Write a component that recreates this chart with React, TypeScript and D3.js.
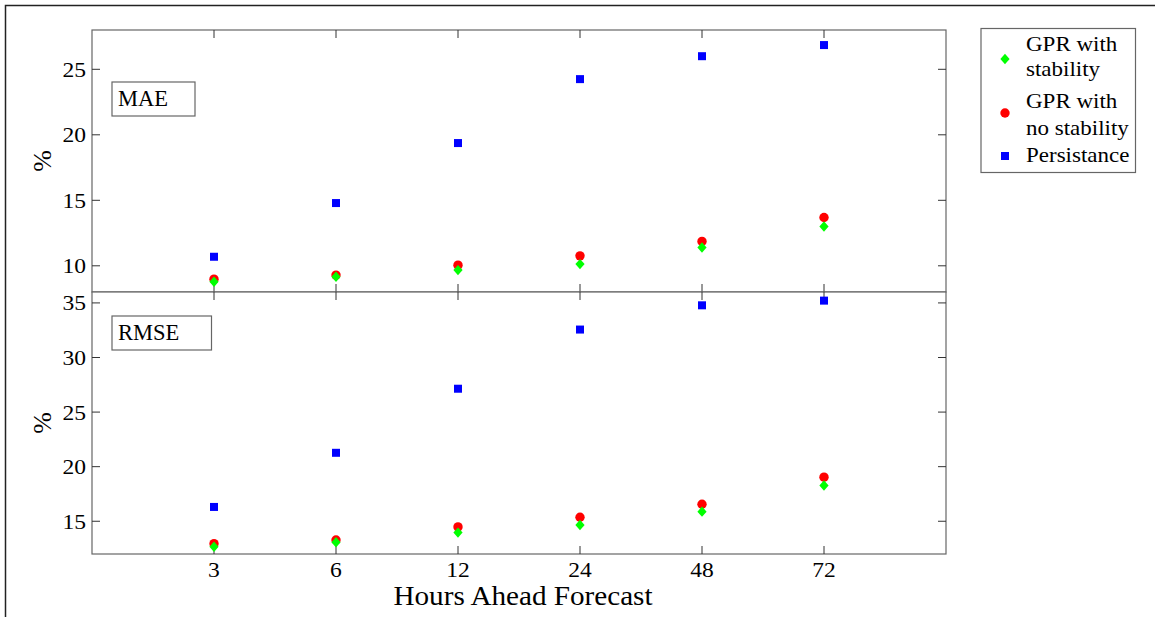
import React from "react";
import * as d3 from "d3";

const categories = ["3", "6", "12", "24", "48", "72"];
const maeStability = [8.78, 9.16, 9.67, 10.13, 11.4, 13.0];
const maeNoStability = [8.98, 9.29, 10.05, 10.76, 11.86, 13.69];
const maePersistence = [10.69, 14.79, 19.37, 24.25, 26.0, 26.85];
const rmseStability = [12.67, 13.07, 13.96, 14.66, 15.88, 18.27];
const rmseNoStability = [12.95, 13.28, 14.48, 15.37, 16.56, 19.04];
const rmsePersistence = [16.31, 21.27, 27.14, 32.56, 34.78, 35.21];
const maeTicks = [10, 15, 20, 25];
const rmseTicks = [15, 20, 25, 30, 35];
const legendItems = [
  { lines: ["GPR with", "stability"], kind: "diamond", color: "#00ff00" },
  { lines: ["GPR with", "no stability"], kind: "circle", color: "#ff0000" },
  { lines: ["Persistance"], kind: "square", color: "#0000ff" },
];

const FONT = '"Liberation Serif", "Times New Roman", serif';
const BOX = "#666";

function Marker({ kind, color, x, y }: { kind: string; color: string; x: number; y: number }) {
  if (kind === "square") return <rect x={x - 4} y={y - 4} width={8} height={8} fill={color} />;
  if (kind === "circle") return <circle cx={x} cy={y} r={4.7} fill={color} />;
  return <path d={`M${x},${y - 5.2}L${x + 4.6},${y}L${x},${y + 5.2}L${x - 4.6},${y}Z`} fill={color} />;
}

function SText({ x, y, size, sx = 1, anchor = "start", baseline, children, rotate = 0 }: any) {
  return (
    <text
      transform={`translate(${x},${y}) rotate(${rotate}) scale(${sx},1)`}
      textAnchor={anchor}
      dominantBaseline={baseline}
      fontSize={size}
      fill="#000"
      style={{ fontFamily: FONT }}
    >
      {children}
    </text>
  );
}

export default function App() {
  const left = 92, right = 946, top = 30, mid = 292, bottom = 554;
  const x = d3.scalePoint<string>().domain(categories).range([left, right]).padding(1);
  const yTop = d3.scaleLinear().domain([8, 28]).range([mid, top]);
  const yBot = d3.scaleLinear().domain([12, 36]).range([bottom, mid]);
  const tl = 8;

  const panels = [
    { y: yTop, ticks: maeTicks, y0: top, y1: mid, label: "MAE", box: [112, 82, 83, 34], series: [maePersistence, maeNoStability, maeStability] },
    { y: yBot, ticks: rmseTicks, y0: mid, y1: bottom, label: "RMSE", box: [112, 316, 99.5, 34], series: [rmsePersistence, rmseNoStability, rmseStability] },
  ];
  const kinds = [
    { kind: "square", color: "#0000ff" },
    { kind: "circle", color: "#ff0000" },
    { kind: "diamond", color: "#00ff00" },
  ];

  return (
    <svg width={1155} height={617} style={{ position: "absolute", left: 0, top: 0, background: "#fff", fontFamily: FONT }}>
      <rect x={0} y={0} width={1155} height={617} fill="#fff" />
      <rect x={5.5} y={5.5} width={1200} height={700} fill="none" stroke="#222" strokeWidth={1.5} />
      {panels.map((p, pi) => (
        <g key={pi}>
          <rect x={left} y={p.y0} width={right - left} height={p.y1 - p.y0} fill="#fff" stroke={BOX} strokeWidth={1.2} />
          {p.ticks.map((t) => (
            <g key={t}>
              <line x1={left} x2={left + tl} y1={p.y(t)} y2={p.y(t)} stroke="#333" />
              <line x1={right} x2={right - tl} y1={p.y(t)} y2={p.y(t)} stroke="#333" />
              <SText x={86} y={p.y(t) + 7.5} anchor="end" size={22} sx={1.07}>{t}</SText>
            </g>
          ))}
          {categories.map((c) => (
            <g key={c}>
              <line x1={x(c)!} x2={x(c)!} y1={p.y0} y2={p.y0 + tl} stroke="#333" />
              <line x1={x(c)!} x2={x(c)!} y1={p.y1} y2={p.y1 - tl} stroke="#333" />
            </g>
          ))}
          <SText x={51} y={(p.y0 + p.y1) / 2} anchor="middle" size={26} rotate={-90}>%</SText>
          <rect x={p.box[0]} y={p.box[1]} width={p.box[2]} height={p.box[3]} fill="#fff" stroke={BOX} strokeWidth={1.2} />
          <SText x={p.box[0] + 6} y={p.box[1] + 23.5} size={22.5}>{p.label}</SText>
          {p.series.map((vals, si) => (
            <g key={si}>
              {vals.map((v, i) => (
                <Marker key={i} kind={kinds[si].kind} color={kinds[si].color} x={x(categories[i])!} y={p.y(v)} />
              ))}
            </g>
          ))}
        </g>
      ))}
      {categories.map((c) => (
        <SText key={c} x={x(c)!} y={577} anchor="middle" size={22} sx={1.07}>{c}</SText>
      ))}
      <SText x={523} y={605} anchor="middle" size={27} sx={1.08}>Hours Ahead Forecast</SText>
      <rect x={981} y={28.5} width={154.5} height={144} fill="#fff" stroke={BOX} strokeWidth={1.2} />
      {(() => {
        const baselines = [[51, 76], [108, 135], [162]];
        const markerY = [59, 113, 156];
        return legendItems.map((it, i) => (
          <g key={i}>
            <Marker kind={it.kind} color={it.color} x={1005} y={markerY[i]} />
            {it.lines.map((ln, j) => (
              <SText key={j} x={1026} y={baselines[i][j]} size={20} sx={1.15}>{ln}</SText>
            ))}
          </g>
        ));
      })()}
    </svg>
  );
}
